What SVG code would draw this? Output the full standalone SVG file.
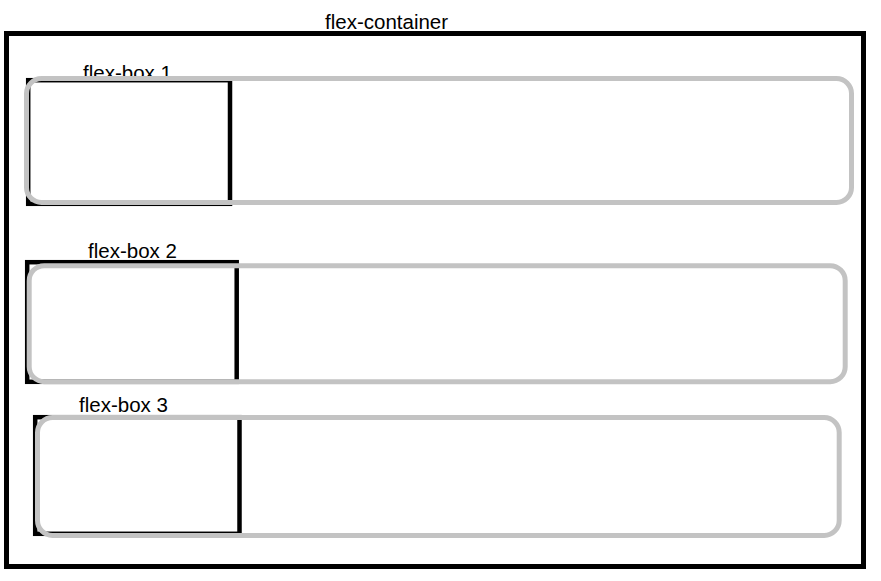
<svg xmlns="http://www.w3.org/2000/svg" width="881" height="581" viewBox="0 0 881 581">
<style>
.lbl{font-family:"Liberation Sans","Noto Sans",Arial,sans-serif;font-size:20.5px;fill:#000}
.inner{fill:none;stroke:#000;stroke-width:4.5}
.box{fill:none;stroke:#c3c3c3;stroke-width:5}
</style>
<rect width="881" height="581" fill="#fff"/>
<g id="flex-container">
<text class="lbl" x="325" y="29">flex-container</text>
<rect x="6.5" y="33.5" width="857" height="533" fill="none" stroke="#000" stroke-width="5"/>
</g>
<g id="flex-box-1">
<text class="lbl" x="83" y="80">flex-box 1</text>
<rect class="inner" x="28.2" y="80.2" width="201.8" height="123.6"/>
<rect class="box" x="26.5" y="78.5" width="825" height="124" rx="15"/>
</g>
<g id="flex-box-2">
<text class="lbl" x="88" y="258">flex-box 2</text>
<rect class="inner" x="27.2" y="262.2" width="209.5" height="119.6"/>
<rect class="box" x="29.2" y="265.7" width="816" height="116" rx="15"/>
</g>
<g id="flex-box-3">
<text class="lbl" x="79" y="411.5">flex-box 3</text>
<rect class="inner" x="35.2" y="417.2" width="204.3" height="116.6"/>
<rect class="box" x="37.5" y="417.5" width="801.7" height="118" rx="15"/>
</g>
<g id="connectors"></g>
</svg>
